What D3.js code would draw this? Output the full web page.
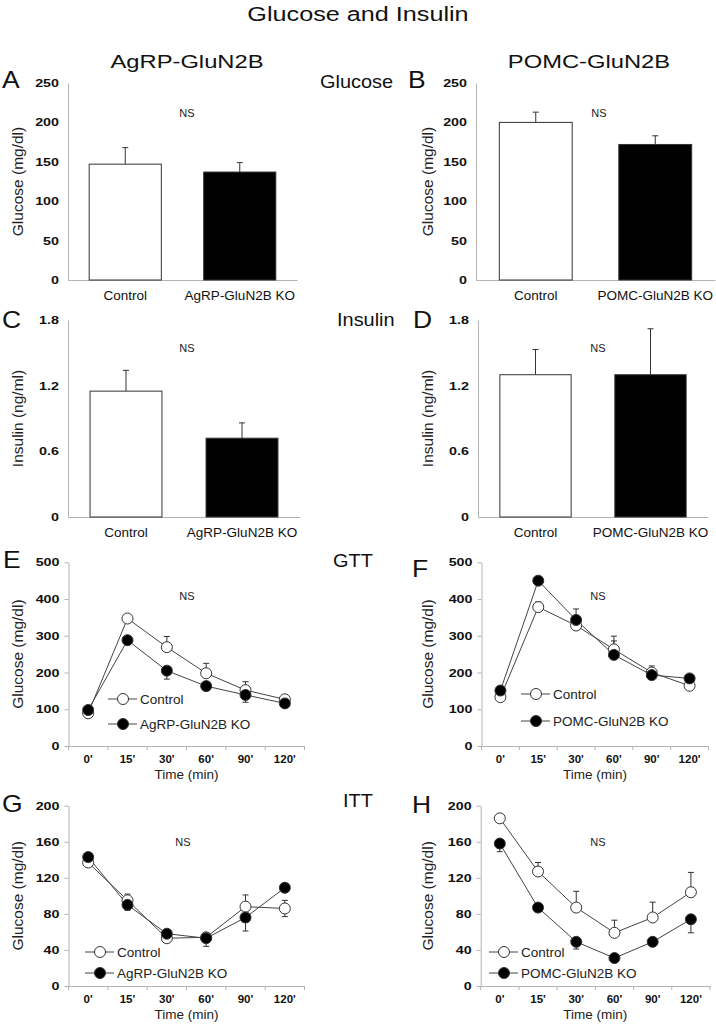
<!DOCTYPE html>
<html>
<head>
<meta charset="utf-8">
<script src="https://cdn.jsdelivr.net/npm/d3@7/dist/d3.min.js"></script>
<style>
  html, body { margin: 0; padding: 0; background: #fff; }
  svg { display: block; }
</style>
</head>
<body>
<svg id="chart" width="716" height="1026"></svg>
<script>
// ---------------- DATA ----------------
const mainTitle = "Glucose and Insulin";
const columnTitles = ["AgRP-GluN2B", "POMC-GluN2B"];
const rowLabels = ["Glucose", "Insulin", "GTT", "ITT"];
const panelLetters = ["A", "B", "C", "D", "E", "F", "G", "H"];

const catsAgRP = ["Control", "AgRP-GluN2B KO"];
const catsPOMC = ["Control", "POMC-GluN2B KO"];

const glucoseAgRP = [147, 137];
const glucoseAgRPErr = [21, 12];
const glucosePOMC = [200, 172];
const glucosePOMCErr = [13, 11];

const insulinAgRP = [1.15, 0.72];
const insulinAgRPErr = [0.19, 0.14];
const insulinPOMC = [1.30, 1.30];
const insulinPOMCErr = [0.23, 0.42];

const glucoseTicks = [0, 50, 100, 150, 200, 250];
const insulinTicks = [0, 0.6, 1.2, 1.8];
const gttTicks = [0, 100, 200, 300, 400, 500];
const ittTicks = [0, 40, 80, 120, 160, 200];

const timePoints = ["0'", "15'", "30'", "60'", "90'", "120'"];

// GTT AgRP (E)
const gttAgRPControl = [89, 347, 269, 198, 152, 127];
const gttAgRPControlErrUp = [4, 6, 29, 27, 23, 9];
const gttAgRPControlErrDown = [0, 0, 0, 0, 0, 0];
const gttAgRPKO = [98, 288, 205, 163, 139, 116];
const gttAgRPKOErrUp = [0, 0, 0, 0, 0, 0];
const gttAgRPKOErrDown = [5, 6, 23, 6, 20, 6];

// GTT POMC (F)
const gttPOMCControl = [133, 378, 328, 263, 200, 164];
const gttPOMCControlErrUp = [4, 14, 45, 36, 18, 4];
const gttPOMCControlErrDown = [0, 0, 0, 0, 0, 0];
const gttPOMCKO = [151, 450, 343, 248, 193, 184];
const gttPOMCKOErrUp = [0, 0, 0, 38, 0, 0];
const gttPOMCKOErrDown = [4, 5, 8, 8, 8, 6];

// ITT AgRP (G)
const ittAgRPControl = [137, 95, 53, 54, 88, 86];
const ittAgRPControlErrUp = [3, 7, 3, 3, 13, 9];
const ittAgRPControlErrDown = [0, 0, 0, 0, 0, 9];
const ittAgRPKO = [143, 90, 58, 53, 76, 109];
const ittAgRPKOErrUp = [0, 0, 0, 0, 0, 0];
const ittAgRPKOErrDown = [3, 6, 3, 9, 15, 4];

// ITT POMC (H)
const ittPOMCControl = [186, 127, 87, 59, 76, 104];
const ittPOMCControlErrUp = [2, 10, 18, 14, 17, 22];
const ittPOMCControlErrDown = [0, 0, 0, 0, 0, 0];
const ittPOMCKO = [158, 87, 49, 31, 49, 74];
const ittPOMCKOErrUp = [0, 0, 0, 0, 0, 0];
const ittPOMCKOErrDown = [9, 3, 8, 3, 3, 15];

// ---------------- DRAWING ----------------
const FONT = "'Liberation Sans', Arial, Helvetica, sans-serif";
const AXIS = "#b3b3b3";
const INK = "#333";
const svg = d3.select("#chart");

function addText(parent, x, y, str, o = {}) {
  const g = parent.append("g")
    .attr("transform", `translate(${x},${y}) scale(${o.sx || 1},1)` + (o.rot ? ` rotate(${o.rot})` : ""));
  g.append("text")
    .attr("x", 0).attr("y", 0)
    .attr("dy", o.dy || 0)
    .attr("text-anchor", o.anchor || "start")
    .attr("font-family", FONT)
    .attr("font-size", o.size || 13)
    .attr("font-weight", o.weight || "normal")
    .attr("fill", o.fill || "#111")
    .text(str);
  return g;
}

function styleYAxis(g, pad, sx) {
  g.select(".domain").attr("stroke", AXIS);
  g.selectAll(".tick line").attr("stroke", AXIS);
  g.selectAll(".tick text")
    .attr("x", 0)
    .attr("transform", `translate(${-pad},0) scale(${sx},1)`)
    .attr("font-family", FONT)
    .attr("font-size", 11)
    .attr("font-weight", "bold")
    .attr("fill", "#111");
}

function drawBar(c) {
  const g = svg.append("g");
  const y = d3.scaleLinear().domain([0, c.max]).range([c.yBot, c.yTop]);
  const x = d3.scaleBand().domain(c.cats).range([c.x0, c.x1])
    .paddingInner(c.padIn).paddingOuter(c.padIn / 2);

  const ya = g.append("g").attr("transform", `translate(${c.x0},0)`)
    .call(d3.axisLeft(y).tickValues(c.ticks).tickSize(0).tickSizeOuter(0).tickFormat(c.fmt));
  styleYAxis(ya, 9, 1.3);

  const xa = g.append("g").attr("transform", `translate(0,${c.yBot})`)
    .call(d3.axisBottom(x).tickSize(0).tickSizeOuter(0).tickPadding(10));
  xa.select(".domain").attr("stroke", AXIS);
  xa.selectAll(".tick text").attr("font-family", FONT).attr("font-size", 13.5).attr("fill", "#111");

  const fills = ["#fff", "#000"];
  c.vals.forEach((v, i) => {
    const cx = x(c.cats[i]) + x.bandwidth() / 2;
    const top = y(v + c.errs[i]);
    g.append("line").attr("x1", cx).attr("x2", cx).attr("y1", y(v)).attr("y2", top)
      .attr("stroke", INK).attr("stroke-width", 1);
    g.append("line").attr("x1", cx - 3).attr("x2", cx + 3).attr("y1", top).attr("y2", top)
      .attr("stroke", INK).attr("stroke-width", 1);
    g.append("rect")
      .attr("x", x(c.cats[i])).attr("width", x.bandwidth())
      .attr("y", y(v)).attr("height", c.yBot - y(v))
      .attr("fill", fills[i]).attr("stroke", INK).attr("stroke-width", 1);
  });

  addText(g, c.ylabX, (c.yTop + c.yBot) / 2, c.ylab, { size: 15.5, anchor: "middle", rot: -90, dy: "0.35em", fill: "#222" });
  addText(g, c.nsX, c.nsY, "NS", { size: 11, anchor: "middle", fill: "#222" });
}

function drawLine(c) {
  const g = svg.append("g");
  const y = d3.scaleLinear().domain([0, c.max]).range([c.yBot, c.yTop]);
  const x = d3.scaleBand().domain(timePoints).range([c.x0, c.x1]).padding(0);
  const px = i => x(timePoints[i]) + x.bandwidth() / 2;

  const ya = g.append("g").attr("transform", `translate(${c.x0},0)`)
    .call(d3.axisLeft(y).tickValues(c.ticks).tickSize(4).tickSizeOuter(0));
  styleYAxis(ya, 9, 1.3);

  const xa = g.append("g").attr("transform", `translate(0,${c.yBot})`)
    .call(d3.axisBottom(x).tickSize(0).tickSizeOuter(0).tickPadding(9));
  xa.select(".domain").attr("stroke", AXIS);
  xa.selectAll(".tick text")
    .attr("font-family", FONT).attr("font-size", 11).attr("font-weight", "bold").attr("fill", "#111")
    .attr("transform", "scale(1.05,1)");
  d3.range(timePoints.length + 1).forEach(i => {
    const bx = c.x0 + i * x.step();
    g.append("line").attr("x1", bx).attr("x2", bx).attr("y1", c.yBot).attr("y2", c.yBot + 4)
      .attr("stroke", AXIS);
  });

  const line = d3.line().x((d, i) => px(i)).y(d => y(d));
  [c.ctrl, c.ko].forEach(s => {
    g.append("path").datum(s.v).attr("d", line).attr("fill", "none")
      .attr("stroke", "#444").attr("stroke-width", 1);
  });
  [c.ctrl, c.ko].forEach(s => {
    s.v.forEach((v, i) => {
      [[s.up[i], 1], [s.down[i], -1]].forEach(([e, sgn]) => {
        if (!e) return;
        const ey = y(v + sgn * e);
        g.append("line").attr("x1", px(i)).attr("x2", px(i)).attr("y1", y(v)).attr("y2", ey)
          .attr("stroke", INK).attr("stroke-width", 1);
        g.append("line").attr("x1", px(i) - 3).attr("x2", px(i) + 3).attr("y1", ey).attr("y2", ey)
          .attr("stroke", INK).attr("stroke-width", 1);
      });
    });
  });
  const fills = ["#fff", "#000"];
  [c.ctrl, c.ko].forEach((s, k) => {
    g.selectAll(null).data(s.v).enter().append("circle")
      .attr("cx", (d, i) => px(i)).attr("cy", d => y(d)).attr("r", 5.5)
      .attr("fill", fills[k]).attr("stroke", INK).attr("stroke-width", 1);
  });

  // legend
  const names = ["Control", c.koName];
  names.forEach((n, k) => {
    const ly = c.legY[k];
    g.append("line").attr("x1", c.legX).attr("x2", c.legX + 29).attr("y1", ly).attr("y2", ly)
      .attr("stroke", "#444");
    g.append("circle").attr("cx", c.legX + 15).attr("cy", ly).attr("r", 5.5)
      .attr("fill", fills[k]).attr("stroke", INK);
    addText(g, c.legX + 32, ly, n, { size: 13.5, dy: "0.36em", fill: "#222" });
  });

  addText(g, c.ylabX, (c.yTop + c.yBot) / 2, "Glucose (mg/dl)", { size: 15.5, anchor: "middle", rot: -90, dy: "0.35em", fill: "#222" });
  addText(g, (c.x0 + c.x1) / 2, c.yBot + 33, "Time (min)", { size: 13.5, anchor: "middle", fill: "#222" });
  addText(g, c.nsX, c.nsY, "NS", { size: 11, anchor: "middle", fill: "#222" });
}

// titles
addText(svg, 358, 21, mainTitle, { size: 21, anchor: "middle", sx: 1.2 });
addText(svg, 187, 68, columnTitles[0], { size: 19, anchor: "middle", sx: 1.25 });
addText(svg, 589, 68, columnTitles[1], { size: 19, anchor: "middle", sx: 1.25 });
addText(svg, 320, 88, rowLabels[0], { size: 19, sx: 1.05 });
addText(svg, 337, 326, rowLabels[1], { size: 19, sx: 1.05 });
addText(svg, 333, 567, rowLabels[2], { size: 19, sx: 1.05 });
addText(svg, 343, 807, rowLabels[3], { size: 19, sx: 1.05 });

const letterPos = [[2, 88], [408, 88], [2, 328], [413, 328], [3, 568], [412, 577], [2, 812], [412, 813]];
panelLetters.forEach((L, i) => addText(svg, letterPos[i][0], letterPos[i][1], L, { size: 23, sx: 1.15 }));

const insFmt = d => d === 0 ? "0" : d3.format(".1f")(d);

drawBar({ x0: 68, x1: 297, yTop: 83, yBot: 280, max: 250, ticks: glucoseTicks, fmt: d3.format("d"),
  cats: catsAgRP, vals: glucoseAgRP, errs: glucoseAgRPErr, padIn: 0.37,
  ylab: "Glucose (mg/dl)", ylabX: 18, nsX: 187, nsY: 117 });
drawBar({ x0: 476, x1: 715, yTop: 83, yBot: 280, max: 250, ticks: glucoseTicks, fmt: d3.format("d"),
  cats: catsPOMC, vals: glucosePOMC, errs: glucosePOMCErr, padIn: 0.39,
  ylab: "Glucose (mg/dl)", ylabX: 428, nsX: 599, nsY: 117 });
drawBar({ x0: 68, x1: 300, yTop: 320, yBot: 517, max: 1.8, ticks: insulinTicks, fmt: insFmt,
  cats: catsAgRP, vals: insulinAgRP, errs: insulinAgRPErr, padIn: 0.38,
  ylab: "Insulin (ng/ml)", ylabX: 18, nsX: 187, nsY: 352 });
drawBar({ x0: 478, x1: 708, yTop: 320, yBot: 517, max: 1.8, ticks: insulinTicks, fmt: insFmt,
  cats: catsPOMC, vals: insulinPOMC, errs: insulinPOMCErr, padIn: 0.38,
  ylab: "Insulin (ng/ml)", ylabX: 428, nsX: 598, nsY: 352 });

drawLine({ x0: 68.5, x1: 304.5, yTop: 562.3, yBot: 746, max: 500, ticks: gttTicks,
  ctrl: { v: gttAgRPControl, up: gttAgRPControlErrUp, down: gttAgRPControlErrDown },
  ko: { v: gttAgRPKO, up: gttAgRPKOErrUp, down: gttAgRPKOErrDown },
  koName: catsAgRP[1], legX: 108, legY: [699, 724], ylabX: 18, nsX: 187, nsY: 600 });
drawLine({ x0: 481.5, x1: 708.5, yTop: 562.3, yBot: 746, max: 500, ticks: gttTicks,
  ctrl: { v: gttPOMCControl, up: gttPOMCControlErrUp, down: gttPOMCControlErrDown },
  ko: { v: gttPOMCKO, up: gttPOMCKOErrUp, down: gttPOMCKOErrDown },
  koName: catsPOMC[1], legX: 521, legY: [694, 721], ylabX: 428, nsX: 598, nsY: 600 });
drawLine({ x0: 68.5, x1: 304.5, yTop: 805.7, yBot: 986, max: 200, ticks: ittTicks,
  ctrl: { v: ittAgRPControl, up: ittAgRPControlErrUp, down: ittAgRPControlErrDown },
  ko: { v: ittAgRPKO, up: ittAgRPKOErrUp, down: ittAgRPKOErrDown },
  koName: catsAgRP[1], legX: 85, legY: [952, 973], ylabX: 18, nsX: 183, nsY: 846 });
drawLine({ x0: 480.7, x1: 710, yTop: 805.7, yBot: 986, max: 200, ticks: ittTicks,
  ctrl: { v: ittPOMCControl, up: ittPOMCControlErrUp, down: ittPOMCControlErrDown },
  ko: { v: ittPOMCKO, up: ittPOMCKOErrUp, down: ittPOMCKOErrDown },
  koName: catsPOMC[1], legX: 489, legY: [952, 973], ylabX: 428, nsX: 598, nsY: 846 });
</script>
</body>
</html>
